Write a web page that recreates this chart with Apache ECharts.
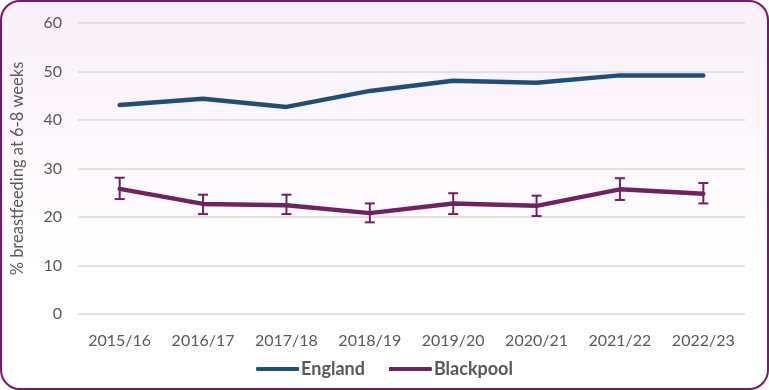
<!DOCTYPE html>
<html><head><meta charset="utf-8">
<script src="https://cdn.jsdelivr.net/npm/echarts@6/dist/echarts.min.js"></script>
<style>
html,body{margin:0;padding:0;width:769px;height:390px;overflow:hidden;background:#fff;}
#frame{position:absolute;left:0;top:0;width:765px;height:386px;border:2px solid #7a1865;border-radius:20px;background:linear-gradient(#f9eff8,#ffffff 70%);}
#chart{position:absolute;left:0;top:0;width:769px;height:390px;}
</style></head>
<body><div id="frame"></div><div id="chart"></div>
<script>
const categories = ['2015/16','2016/17','2017/18','2018/19','2019/20','2020/21','2021/22','2022/23'];
const england = [43.1, 44.4, 42.7, 46.0, 48.1, 47.7, 49.2, 49.2];
const blackpool = [25.8, 22.7, 22.4, 20.8, 22.8, 22.3, 25.7, 24.8];
const blackpoolLower = [23.7, 20.6, 20.6, 18.9, 20.6, 20.2, 23.5, 22.8];
const blackpoolUpper = [28.1, 24.6, 24.6, 22.8, 24.9, 24.4, 28.0, 27.0];
const yTicks = [0, 10, 20, 30, 40, 50, 60];

const chart = echarts.init(document.getElementById('chart'), null, {renderer:'canvas'});
const font = 'Lato, "Open Sans", sans-serif';
const errData = categories.map((c,i)=>[i, blackpoolLower[i], blackpoolUpper[i]]);
chart.setOption({
  backgroundColor: 'transparent',
  animation: false,
  grid: {left: 78, right: 24, top: 23, bottom: 76},
  legend: {
    bottom: 7, left: 'center', itemWidth: 43, itemHeight: 4, itemGap: 24,
    icon: 'roundRect',
    textStyle: {color: '#595959', fontSize: 18, fontWeight: 'bold', fontFamily: font, padding:[0,0,0,-3]},
    data: ['England','Blackpool']
  },
  xAxis: {
    type: 'category', data: categories,
    axisLine: {show: false}, axisTick: {show: false},
    axisLabel: {color: '#595959', fontSize: 16, fontFamily: font, margin: 19}
  },
  yAxis: {
    type: 'value', min: yTicks[0], max: yTicks[yTicks.length-1], interval: 10,
    name: '% breastfeeding at 6-8 weeks', nameLocation: 'middle', nameGap: 52, nameRotate: 90,
    nameTextStyle: {color: '#595959', fontSize: 16.5, fontFamily: font},
    axisLabel: {color: '#595959', fontSize: 16, fontFamily: font, margin: 16},
    splitLine: {lineStyle: {color: '#d9d9d9', width: 1.5}},
    axisLine: {show: false}, axisTick: {show: false}
  },
  series: [
    {name: 'England', type: 'line', data: england, symbol: 'none', smooth: false,
     lineStyle: {color: '#1f4e79', width: 4.5, cap: 'round', join: 'round'}, itemStyle: {color: '#1f4e79'}},
    {name: 'Blackpool', type: 'line', data: blackpool, symbol: 'none',
     lineStyle: {color: '#70215f', width: 4.5, cap: 'round', join: 'round'}, itemStyle: {color: '#70215f'}},
    {name: 'err', type: 'custom', data: errData, z: 5,
     renderItem: function(params, api){
       const x = api.value(0);
       const lo = api.coord([x, api.value(1)]);
       const hi = api.coord([x, api.value(2)]);
       const w = 5;
       const st = {stroke: '#70215f', lineWidth: 2, fill: null};
       return {type: 'group', children: [
         {type: 'line', shape: {x1: lo[0], y1: lo[1], x2: hi[0], y2: hi[1]}, style: st},
         {type: 'line', shape: {x1: lo[0]-w, y1: lo[1], x2: lo[0]+w, y2: lo[1]}, style: st},
         {type: 'line', shape: {x1: hi[0]-w, y1: hi[1], x2: hi[0]+w, y2: hi[1]}, style: st}
       ]};
     }}
  ]
});
</script></body></html>
